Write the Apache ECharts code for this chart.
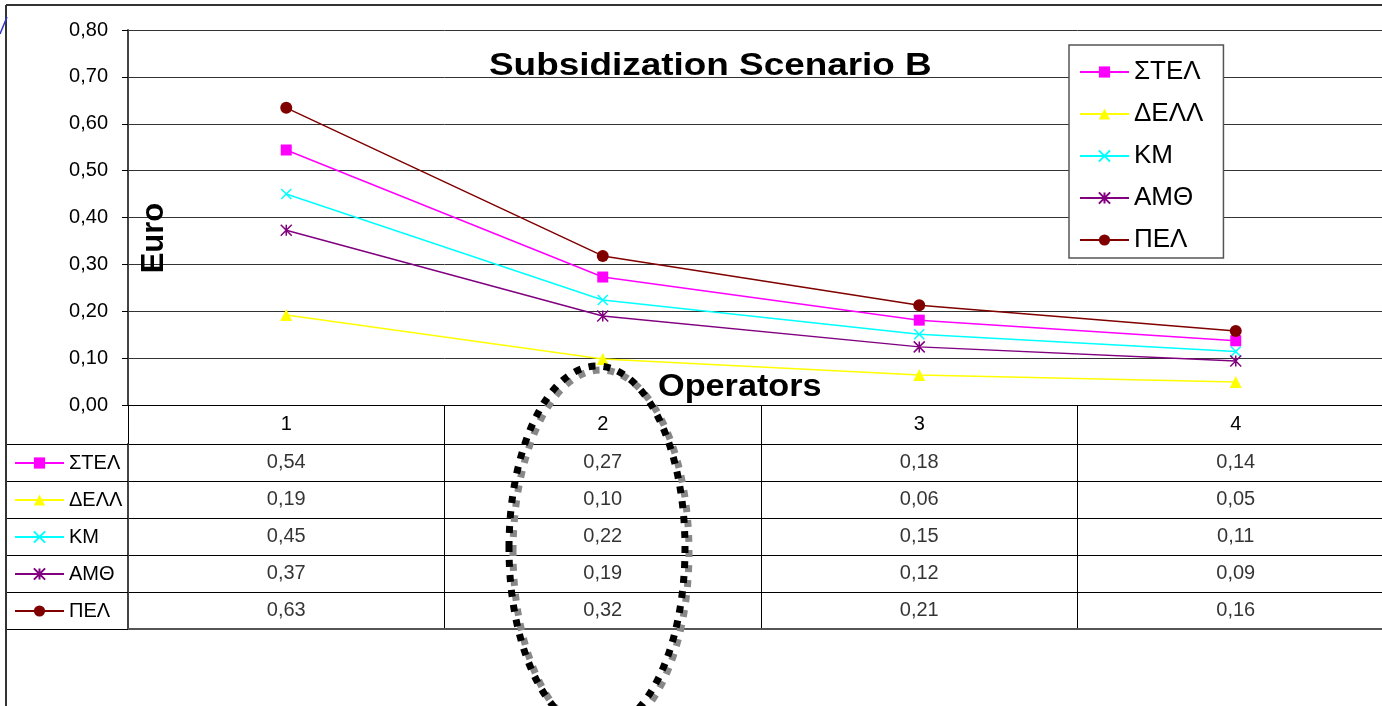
<!DOCTYPE html>
<html>
<head>
<meta charset="utf-8">
<title>Subsidization Scenario B</title>
<script src="https://cdn.jsdelivr.net/npm/echarts@6/dist/echarts.min.js"></script>
<style>
    html, body { margin: 0; padding: 0; background: #fff; overflow: hidden; }
    #chart { width: 1400px; height: 706px; }
</style>
</head>
<body>
<div id="chart"></div>
<script>
var operators = ['1', '2', '3', '4'];
var seriesNames = ['ΣΤΕΛ', 'ΔΕΛΛ', 'ΚΜ', 'ΑΜΘ', 'ΠΕΛ'];

var stel = [0.544, 0.273, 0.181, 0.137];
var dell = [0.192, 0.098, 0.064, 0.049];
var km = [0.450, 0.224, 0.151, 0.114];
var amth = [0.373, 0.190, 0.124, 0.094];
var pel = [0.634, 0.318, 0.213, 0.158];

var yTicks = [0, 0.1, 0.2, 0.3, 0.4, 0.5, 0.6, 0.7, 0.8];

var FONT = '"Liberation Sans", Arial, sans-serif';

function comma(v) {
    return v.toFixed(2).replace('.', ',');
}

function drawChart() {
    var myChart = echarts.init(document.getElementById('chart'));

    var values = [stel, dell, km, amth, pel];
    var colors = ['#ff00ff', '#ffff00', '#00ffff', '#800080', '#800000'];
    var symbols = [
        'rect',
        'triangle',
        'path://M0,0L10,10M10,0L0,10',
        'path://M5,0L5,10M0,0L10,10M10,0L0,10',
        'circle'
    ];
    var sizes = [11, 12, 10, 11, 12];

    // line series
    var series = [];
    for (var i = 0; i < seriesNames.length; i++) {
        var stroked = symbols[i].indexOf('path://') === 0;
        series.push({
            name: seriesNames[i],
            type: 'line',
            xAxisIndex: 0,
            yAxisIndex: 0,
            data: values[i],
            symbol: symbols[i],
            symbolSize: sizes[i],
            showAllSymbol: true,
            lineStyle: { color: colors[i], width: 1.5 },
            itemStyle: {
                color: colors[i],
                borderColor: colors[i],
                borderWidth: stroked ? 1.5 : 0
            },
            z: 5
        });
    }

    // data table cells
    var cells = [];
    for (var r = 0; r < seriesNames.length; r++) {
        for (var c = 0; c < operators.length; c++) {
            cells.push([c, r, values[r][c]]);
        }
    }
    series.push({
        type: 'scatter',
        xAxisIndex: 1,
        yAxisIndex: 1,
        data: cells,
        symbolSize: 1,
        silent: true,
        itemStyle: { color: 'transparent' },
        label: {
            show: true,
            position: 'inside',
            color: '#000',
            fontSize: 20,
            fontFamily: FONT,
            formatter: function (p) { return comma(p.value[2]); }
        }
    });

    var option = {
        backgroundColor: '#fff',
        animation: false,
        grid: [
            { left: 128, top: 30, width: 1266, height: 375 },
            { left: 128, top: 444, width: 1266, height: 185 }
        ],
        legend: [
            {
                data: seriesNames,
                orient: 'vertical',
                left: 1069,
                top: 45,
                padding: [14, 20, 5, 10],
                itemWidth: 49,
                itemHeight: 14,
                itemGap: 16,
                backgroundColor: '#fff',
                borderColor: '#555',
                borderWidth: 1.5,
                borderRadius: 0,
                selectedMode: false,
                textStyle: { fontSize: 26, lineHeight: 26, color: '#000', fontFamily: FONT }
            },
            {
                data: seriesNames,
                orient: 'vertical',
                left: 14,
                top: 453,
                padding: 0,
                itemWidth: 49,
                itemHeight: 14,
                itemGap: 17,
                selectedMode: false,
                textStyle: { fontSize: 20, lineHeight: 20, color: '#000', fontFamily: FONT }
            }
        ],
        xAxis: [
            {
                gridIndex: 0,
                type: 'category',
                data: operators,
                boundaryGap: true,
                axisLine: { lineStyle: { color: '#000', width: 1 } },
                axisTick: { show: true, interval: 0, length: 39, lineStyle: { color: '#000' } },
                axisLabel: { color: '#000', fontSize: 20, fontFamily: FONT, margin: 9 },
                splitLine: { show: false }
            },
            {
                gridIndex: 1,
                type: 'category',
                data: operators,
                boundaryGap: true,
                axisLine: { show: true, lineStyle: { color: '#555', width: 2 } },
                axisTick: { show: false },
                axisLabel: { show: false },
                splitLine: { show: true, interval: 0, lineStyle: { color: '#000', width: 1 } }
            }
        ],
        yAxis: [
            {
                gridIndex: 0,
                type: 'value',
                min: yTicks[0],
                max: yTicks[yTicks.length - 1],
                interval: 0.1,
                axisLine: { show: true, onZero: false, lineStyle: { color: '#444', width: 2 } },
                axisTick: { show: true, length: 6, lineStyle: { color: '#000' } },
                axisLabel: {
                    color: '#000',
                    fontSize: 20,
                    fontFamily: FONT,
                    margin: 20,
                    formatter: function (v) { return comma(v); }
                },
                splitLine: { show: true, lineStyle: { color: '#333', width: 1 } }
            },
            {
                gridIndex: 1,
                type: 'category',
                data: seriesNames,
                inverse: true,
                boundaryGap: true,
                axisLine: { show: true, lineStyle: { color: '#444', width: 2 } },
                axisTick: { show: true, interval: 0, length: 121, lineStyle: { color: '#000' } },
                axisLabel: { show: false },
                splitLine: { show: true, interval: 0, lineStyle: { color: '#000', width: 1 } }
            }
        ],
        graphic: [
            // outer frame
            { type: 'line', shape: { x1: 6, y1: 5, x2: 6, y2: 706 }, style: { stroke: '#333', lineWidth: 2 } },
            { type: 'line', shape: { x1: 6, y1: 5, x2: 1400, y2: 5 }, style: { stroke: '#333', lineWidth: 2 } },
            { type: 'line', shape: { x1: 0, y1: 34, x2: 7, y2: 17 }, style: { stroke: '#3333cc', lineWidth: 1.5 } },
            {
                type: 'text', x: 489, y: 66, scaleX: 1.19, z: 10,
                style: {
                    text: 'Subsidization Scenario B', fill: '#000',
                    font: 'bold 31px ' + FONT, textAlign: 'left', textVerticalAlign: 'middle', verticalAlign: 'middle'
                }
            },
            {
                type: 'text', x: 658, y: 387, scaleX: 1.07, z: 10,
                style: {
                    text: 'Operators', fill: '#000',
                    font: 'bold 32px ' + FONT, textAlign: 'left', textVerticalAlign: 'middle', verticalAlign: 'middle'
                }
            },
            {
                type: 'text', x: 154, y: 238, rotation: Math.PI / 2, z: 10,
                style: {
                    text: 'Euro', fill: '#000',
                    font: 'bold 31px ' + FONT, textAlign: 'center', textVerticalAlign: 'middle', verticalAlign: 'middle'
                }
            },
            // dotted highlight around operator 2
            {
                type: 'ellipse', z: 20, silent: true,
                shape: { cx: 597, cy: 548, rx: 88, ry: 182 },
                style: {
                    fill: null, stroke: '#000', lineWidth: 7, lineDash: [7, 8],
                    shadowColor: '#888', shadowBlur: 0, shadowOffsetX: 4, shadowOffsetY: 4
                }
            }
        ],
        series: series
    };

    myChart.setOption(option);
}

drawChart();
</script>
</body>
</html>
